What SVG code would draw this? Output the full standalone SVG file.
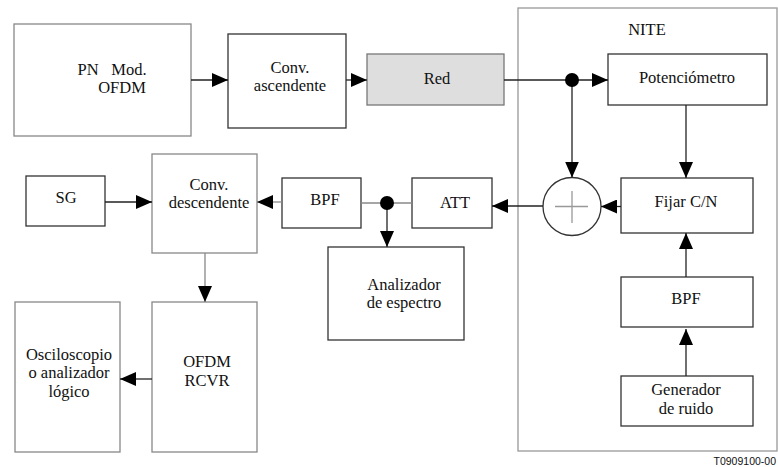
<svg xmlns="http://www.w3.org/2000/svg" width="778" height="467" viewBox="0 0 778 467">
<style>
.box{fill:#fff;stroke:#333;stroke-width:1.3}
.gbox{fill:#fff;stroke:#888;stroke-width:1.3}
.t{font-family:'Liberation Serif','DejaVu Serif',serif;font-size:16.5px;fill:#111;text-anchor:middle}
.c{fill:none;stroke:#222;stroke-width:1.3}
.cg{fill:none;stroke:#888;stroke-width:1.3}
</style>
<defs>
<marker id="ah" markerUnits="userSpaceOnUse" markerWidth="16" markerHeight="14" refX="16" refY="7" orient="auto">
<path d="M0,0 L16,7 L0,14 Z" fill="#000"/>
</marker>
</defs>
<rect fill="#fff" width="778" height="467"/>
<g id="nite">
<rect x="518" y="8" width="259" height="443" fill="#fff" stroke="#999" stroke-width="1.3"/>
<text class="t" x="647" y="35" font-family="Liberation Serif, serif">NITE</text>
</g>
<g id="pnmod">
<rect class="gbox" x="14" y="24" width="177" height="112"/>
<text class="t" x="88" y="75">PN</text>
<text class="t" x="129" y="75">Mod.</text>
<text class="t" x="122" y="93">OFDM</text>
</g>
<g id="convasc">
<rect class="box" x="228" y="34" width="118" height="94"/>
<text class="t" x="290" y="73">Conv.</text>
<text class="t" x="290" y="91">ascendente</text>
</g>
<g id="red">
<rect x="367" y="54" width="137" height="51" fill="#dedede" stroke="#777" stroke-width="1.3"/>
<text class="t" x="437" y="84">Red</text>
</g>
<g id="potenciometro">
<rect class="box" x="608" y="54" width="159" height="51"/>
<text class="t" x="687" y="83">Potenciómetro</text>
</g>
<g id="sumador">
<circle cx="572" cy="206.5" r="29" fill="#fff" stroke="#333" stroke-width="1.3"/>
<path d="M555,206.5 H588 M572,191 V223" stroke="#999" stroke-width="1.3" fill="none"/>
</g>
<g id="fijar">
<rect class="box" x="621" y="178" width="132" height="55"/>
<text class="t" x="686" y="207">Fijar C/N</text>
</g>
<g id="bpf2">
<rect class="box" x="621" y="277" width="132" height="50"/>
<text class="t" x="686" y="304">BPF</text>
</g>
<g id="generador">
<rect class="box" x="621" y="376" width="132" height="50"/>
<text class="t" x="686" y="395">Generador</text>
<text class="t" x="686" y="414">de ruido</text>
</g>
<g id="att">
<rect class="box" x="412" y="178" width="80" height="50"/>
<text class="t" x="455" y="208">ATT</text>
</g>
<g id="bpf1">
<rect class="box" x="282" y="178" width="79" height="50"/>
<text class="t" x="325" y="205">BPF</text>
</g>
<g id="analizador">
<rect class="box" x="328" y="247" width="136" height="93"/>
<text class="t" x="404" y="290">Analizador</text>
<text class="t" x="404" y="308">de espectro</text>
</g>
<g id="convdesc">
<rect class="gbox" x="152" y="154" width="105" height="99"/>
<text class="t" x="209" y="190">Conv.</text>
<text class="t" x="209" y="208">descendente</text>
</g>
<g id="sg">
<rect class="box" x="26" y="176" width="79" height="50"/>
<text class="t" x="66" y="203">SG</text>
</g>
<g id="ofdmrcvr">
<rect class="gbox" x="152" y="302" width="105" height="150"/>
<text class="t" x="207" y="367">OFDM</text>
<text class="t" x="207" y="386">RCVR</text>
</g>
<g id="osciloscopio">
<rect class="gbox" x="15" y="302" width="105" height="150"/>
<text class="t" x="69" y="360">Osciloscopio</text>
<text class="t" x="69" y="378">o analizador</text>
<text class="t" x="69" y="397">lógico</text>
</g>
<g id="connectors">
<path class="c" d="M191,80 H228" marker-end="url(#ah)"/>
<path class="c" d="M346,80 H367" marker-end="url(#ah)"/>
<path class="c" d="M504,80 H608" marker-end="url(#ah)"/>
<path class="c" d="M572,80 V177.5" marker-end="url(#ah)"/>
<path class="c" d="M686,105 V178" marker-end="url(#ah)"/>
<path class="c" d="M621,206.5 H601" marker-end="url(#ah)"/>
<path class="c" d="M543,206 H492" marker-end="url(#ah)"/>
<path class="cg" d="M412,203 H361"/>
<path class="c" d="M387,203 V247" marker-end="url(#ah)"/>
<path class="cg" d="M282,202 H257" marker-end="url(#ah)"/>
<path class="c" d="M105,202 H152" marker-end="url(#ah)"/>
<path class="cg" d="M205,253 V302" marker-end="url(#ah)"/>
<path class="c" d="M152,379 H120" marker-end="url(#ah)"/>
<path class="c" d="M686,277 V233" marker-end="url(#ah)"/>
<path class="c" d="M686,376 V329" marker-end="url(#ah)"/>
<circle cx="572" cy="80" r="7" fill="#000"/>
<circle cx="387" cy="203" r="7" fill="#000"/>
</g>
<text x="776" y="465" font-family="Liberation Sans,Arial,sans-serif" font-size="10.5" text-anchor="end" fill="#111">T0909100-00</text>
</svg>
